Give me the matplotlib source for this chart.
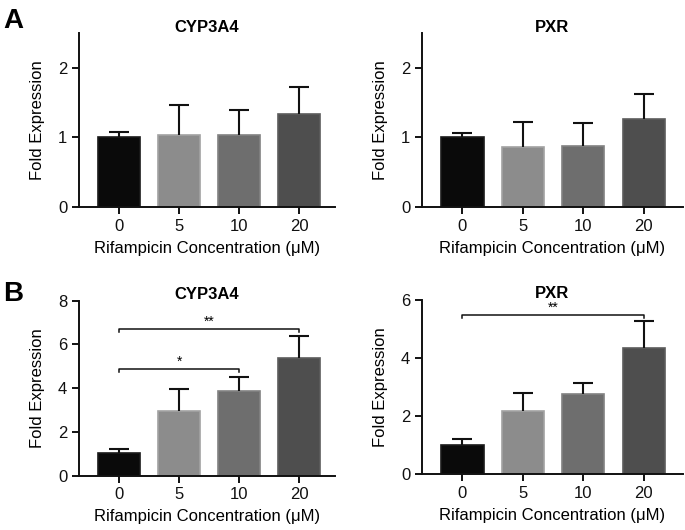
import matplotlib
matplotlib.use('Agg')
import matplotlib.pyplot as plt

plt.rcParams['font.family'] = ['Liberation Sans', 'DejaVu Sans']

conc = ['0', '5', '10', '20']
bar_colors = ['#0a0a0a', '#8c8c8c', '#6e6e6e', '#4e4e4e']
edge_colors = ['#1a1a1a', '#a2a2a2', '#828282', '#5c5c5c']

# panel A
a_cyp_mean = [1.01, 1.03, 1.03, 1.34]
a_cyp_err = [0.07, 0.43, 0.36, 0.39]
a_pxr_mean = [1.00, 0.86, 0.87, 1.26]
a_pxr_err = [0.06, 0.36, 0.33, 0.36]

# panel B
b_cyp_mean = [1.02, 2.95, 3.88, 5.39]
b_cyp_err = [0.20, 1.00, 0.62, 0.99]
b_pxr_mean = [1.00, 2.19, 2.75, 4.34]
b_pxr_err = [0.21, 0.61, 0.38, 0.92]

# significance brackets: (i, j, y, label)
b_cyp_sig = [(0, 2, 4.87, '*'), (0, 3, 6.72, '**')]
b_pxr_sig = [(0, 3, 5.48, '**')]

fig = plt.figure(figsize=(6.85, 5.3), dpi=100)

panels = [
    ([0.1153, 0.6094, 0.374, 0.3283], 'CYP3A4', a_cyp_mean, a_cyp_err, 2.5, [0, 1, 2], [], 3.6),
    ([0.616, 0.6094, 0.381, 0.3283], 'PXR', a_pxr_mean, a_pxr_err, 2.5, [0, 1, 2], [], 3.65),
    ([0.1153, 0.1025, 0.374, 0.3301], 'CYP3A4', b_cyp_mean, b_cyp_err, 8, [0, 2, 4, 6, 8], b_cyp_sig, 3.6),
    ([0.616, 0.105, 0.381, 0.3295], 'PXR', b_pxr_mean, b_pxr_err, 6, [0, 2, 4, 6], b_pxr_sig, 3.65),
]

for rect, title, mean, err, ymax, yt, sig, xr in panels:
    ax = fig.add_axes(rect)
    x = range(len(conc))
    ax.bar(x, mean, width=0.7, color=bar_colors, edgecolor=edge_colors, linewidth=1.2, zorder=2)
    eb = ax.errorbar(x, mean, yerr=[[0] * len(err), err], fmt='none', ecolor='#111111',
                     elinewidth=1.5, capsize=7.5, capthick=1.5, zorder=3)
    # only the upper cap is shown
    eb[1][0].set_visible(False)
    ax.set_xlim(-0.67, xr)
    ax.set_ylim(0, ymax)
    ax.set_yticks(yt)
    ax.set_xticks(list(x))
    ax.set_xticklabels(conc)
    for s in ['top', 'right']:
        ax.spines[s].set_visible(False)
    for s in ['left', 'bottom']:
        ax.spines[s].set_linewidth(1.4)
        ax.spines[s].set_color('#111111')
    ax.tick_params(direction='out', length=5, width=1.4, labelsize=12, colors='#111111')
    ax.set_title(title, fontsize=12, fontweight='bold', y=1.0, pad=1)
    ax.set_ylabel('Fold Expression', fontsize=12, labelpad=9)
    ax.set_xlabel('Rifampicin Concentration (\u03bcM)', fontsize=12, labelpad=5)
    leg = ymax * 0.018
    for i, j, y, lab in sig:
        ax.plot([i, i, j, j], [y - leg, y, y, y - leg], color='#111111', lw=1.1, clip_on=False)
        ax.text((i + j) / 2, y, lab, ha='center', va='bottom', fontsize=10)

fig.text(0.005, 0.985, 'A', fontsize=20, fontweight='bold', va='top')
fig.text(0.005, 0.47, 'B', fontsize=20, fontweight='bold', va='top')

fig.savefig('out.png', dpi=100)
